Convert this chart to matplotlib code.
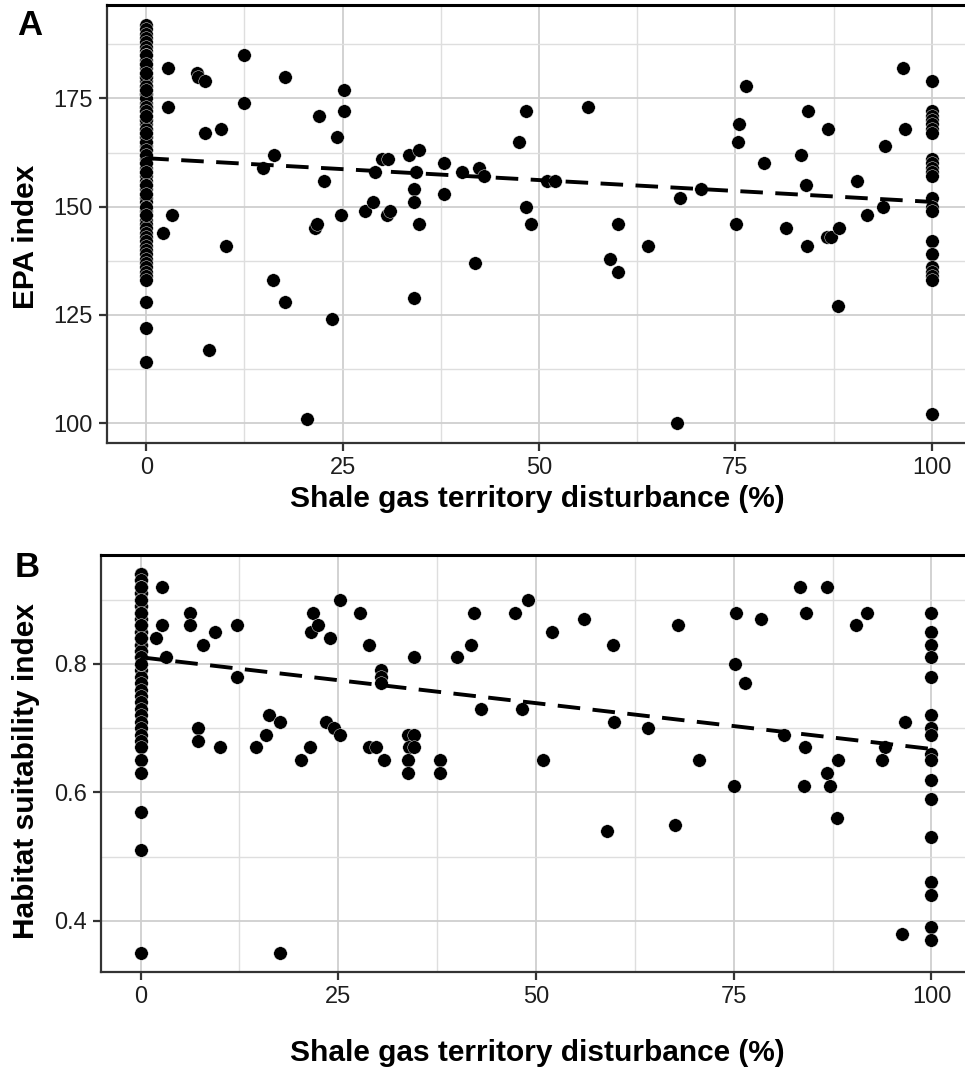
import numpy as np
import matplotlib
matplotlib.use("Agg")
import matplotlib.pyplot as plt
from matplotlib.ticker import MultipleLocator

plt.rcParams['font.family'] = ['Liberation Sans', 'DejaVu Sans']

W, H = 965, 1071

# ---- panel A: EPA index ----
# sites with no disturbance (x = 0); many of them overlap in the column
epa_zero = [192, 191, 190, 189, 188, 187, 186, 185, 184, 183, 182, 181, 180, 179,
            178, 177, 176, 175, 174, 173, 172, 171, 170, 169, 168, 167, 166, 165,
            164, 163, 162, 161, 160, 159, 158, 157, 156, 155, 154, 153, 152, 151,
            150, 149, 148, 147, 146, 145, 144, 143, 142, 141, 140, 139, 138, 137,
            136, 135, 134, 133, 128, 122, 114,
            185, 183, 180, 178, 176, 175, 173, 172, 170, 168, 166, 165, 163, 162,
            160, 158, 155, 153, 150, 148, 181, 177, 171, 167]
epa_mid_x = [2.8, 2.8, 2.1, 3.3, 6.4, 6.6, 7.5, 7.5, 8.0, 9.5, 10.1, 12.4, 12.4,
             14.8, 16.3, 16.1, 17.6, 17.6, 20.4, 22.0, 21.5, 21.7, 22.6, 23.7,
             24.3, 25.2, 25.2, 24.8, 27.8, 28.9, 29.1, 30.0, 30.8, 30.6, 31.0,
             33.5, 34.7, 34.1, 34.1, 34.4, 34.7, 34.1, 37.9, 37.9, 40.2, 41.9,
             42.4, 43.0, 47.4, 48.4, 48.4, 49.0, 51.0, 52.1, 56.2, 59.0, 60.0,
             60.1, 63.9, 67.6, 67.9, 70.6, 75.1, 75.4, 75.3, 76.3, 78.6, 81.4,
             83.4, 84.2, 84.0, 84.1, 86.8, 86.7, 87.2, 88.2, 88.1, 90.5, 91.8,
             93.8, 94.1, 96.3, 96.6]
epa_mid_y = [182, 173, 144, 148, 181, 180, 179, 167, 117, 168, 141, 185, 174,
             159, 162, 133, 180, 128, 101, 171, 145, 146, 156, 124,
             166, 177, 172, 148, 149, 151, 158, 161, 161, 148, 149,
             162, 163, 154, 151, 158, 146, 129, 160, 153, 158, 137,
             159, 157, 165, 172, 150, 146, 156, 156, 173, 138, 146,
             135, 141, 100, 152, 154, 146, 169, 165, 178, 160, 145,
             162, 172, 155, 141, 168, 143, 143, 145, 127, 156, 148,
             150, 164, 182, 168]
epa_full = [179, 172, 171, 170, 169, 168, 167, 161, 160, 159, 158, 157, 152, 150,
            149, 142, 139, 136, 135, 134, 133, 102]

# ---- panel B: habitat suitability index ----
hsi_zero = [0.94, 0.93, 0.92, 0.91, 0.90, 0.89, 0.88, 0.87, 0.86, 0.85, 0.84,
            0.83, 0.82, 0.81, 0.80, 0.79, 0.78, 0.77, 0.76, 0.75, 0.74, 0.73,
            0.72, 0.71, 0.70, 0.69, 0.68, 0.67, 0.65, 0.63, 0.57, 0.51, 0.35,
            0.94, 0.93, 0.92, 0.91, 0.90, 0.89, 0.88, 0.87, 0.86, 0.85, 0.84,
            0.83, 0.82, 0.81, 0.80, 0.94, 0.93, 0.92, 0.91, 0.90, 0.89, 0.88,
            0.87, 0.86, 0.85, 0.84, 0.83, 0.82, 0.81, 0.80, 0.92, 0.90, 0.88,
            0.86, 0.84]
hsi_mid_x = [2.7, 2.7, 2.0, 3.2, 6.2, 6.2, 7.9, 9.4, 7.3, 7.3, 10.0, 12.2, 12.2,
             14.6, 15.9, 16.2, 17.6, 17.6, 20.3, 21.4, 21.8, 21.6, 22.4, 23.5,
             23.9, 24.5, 25.2, 25.2, 27.8, 28.9, 28.9, 29.8, 30.8, 30.4, 30.4,
             30.4, 33.8, 34.6, 34.0, 34.6, 33.8, 33.8, 34.6, 37.8, 37.8, 40.0,
             41.8, 42.1, 43.0, 47.4, 48.2, 49.0, 50.9, 52.0, 56.1, 59.0, 59.7,
             59.9, 64.1, 67.9, 67.6, 70.6, 75.3, 75.2, 75.0, 76.4, 78.5, 81.3,
             83.4, 84.2, 84.0, 83.9, 86.8, 86.8, 87.2, 88.2, 88.0, 90.5, 91.9,
             94.1, 93.8, 96.6, 96.3]
hsi_mid_y = [0.92, 0.86, 0.84, 0.81, 0.88, 0.86, 0.83, 0.85, 0.70, 0.68, 0.67, 0.86, 0.78,
             0.67, 0.69, 0.72, 0.71, 0.35, 0.65, 0.67, 0.88, 0.85, 0.86, 0.71,
             0.84, 0.70, 0.69, 0.90, 0.88, 0.83, 0.67, 0.67, 0.65, 0.79, 0.78,
             0.77, 0.69, 0.69, 0.67, 0.67, 0.65, 0.63, 0.81, 0.65, 0.63, 0.81,
             0.83, 0.88, 0.73, 0.88, 0.73, 0.90, 0.65, 0.85, 0.87, 0.54, 0.83,
             0.71, 0.70, 0.86, 0.55, 0.65, 0.88, 0.80, 0.61, 0.77, 0.87, 0.69,
             0.92, 0.88, 0.67, 0.61, 0.92, 0.63, 0.61, 0.65, 0.56, 0.86, 0.88,
             0.67, 0.65, 0.71, 0.38]
hsi_full = [0.88, 0.85, 0.83, 0.81, 0.78, 0.72, 0.70, 0.69, 0.66, 0.65, 0.62, 0.59,
            0.53, 0.46, 0.44, 0.39, 0.37]

xlab = "Shale gas territory disturbance (%)"


def collect(zero, mid_x, mid_y, full):
    x = np.concatenate([np.zeros(len(zero)), mid_x, np.full(len(full), 100.0)])
    y = np.concatenate([zero, mid_y, full])
    return x, y


def draw_panel(ax, x, y, ylim, ymajor, yminor):
    ax.set_xlim(-5, 105)
    ax.set_ylim(*ylim)
    ax.xaxis.set_major_locator(MultipleLocator(25))
    ax.xaxis.set_minor_locator(MultipleLocator(12.5))
    ax.yaxis.set_major_locator(MultipleLocator(ymajor))
    ax.yaxis.set_minor_locator(MultipleLocator(yminor))
    ax.grid(which='major', color='#cfcfcf', lw=1.3, zorder=0)
    ax.grid(which='minor', color='#dedede', lw=1.0, zorder=0)
    ax.set_axisbelow(True)
    ax.tick_params(which='minor', length=0)
    ax.tick_params(which='major', length=6, width=1.6, color='#333333',
                   labelsize=17, labelcolor='#1e1e1e', pad=4)
    for s in ['left', 'bottom', 'right']:
        ax.spines[s].set_color('#333333')
        ax.spines[s].set_linewidth(1.6)
    ax.spines['top'].set_color('black')
    ax.spines['top'].set_linewidth(2.2)

    ax.scatter(x, y, s=95, c='black', edgecolors='white', linewidths=0.3, zorder=3)

    # linear fit, like geom_smooth(method = "lm")
    b, a = np.polyfit(x, y, 1)
    xs = np.array([0.0, 100.0])
    ax.plot(xs, a + b * xs, color='black', lw=2.8, dashes=(5.8, 3.2), zorder=4)


fig = plt.figure(figsize=(W / 100, H / 100), dpi=100)

axA = fig.add_axes([107 / W, 1 - 443 / H, 864 / W, 438 / H])
xa, ya = collect(epa_zero, epa_mid_x, epa_mid_y, epa_full)
draw_panel(axA, xa, ya, (95.4, 196.6), 25, 12.5)

axB = fig.add_axes([101 / W, 1 - 972 / H, 870 / W, 417 / H])
xb, yb = collect(hsi_zero, hsi_mid_x, hsi_mid_y, hsi_full)
draw_panel(axB, xb, yb, (0.3205, 0.9695), 0.2, 0.1)

fig.text(537 / W, 1 - 507 / H, xlab, ha='center', va='baseline',
         fontsize=21.5, fontweight='bold')
fig.text(537 / W, 1 - 1061 / H, xlab, ha='center', va='baseline',
         fontsize=21.5, fontweight='bold')
fig.text(26 / W, 1 - 237 / H, "EPA index", rotation=90, ha='center', va='center',
         fontsize=21.5, fontweight='bold')
fig.text(26 / W, 1 - 771 / H, "Habitat suitability index", rotation=90,
         ha='center', va='center', fontsize=21.5, fontweight='bold')
fig.text(17 / W, 1 - 35 / H, "A", ha='left', va='baseline',
         fontsize=25, fontweight='bold')
fig.text(15 / W, 1 - 577 / H, "B", ha='left', va='baseline',
         fontsize=25, fontweight='bold')

fig.savefig("out.png", dpi=100)
